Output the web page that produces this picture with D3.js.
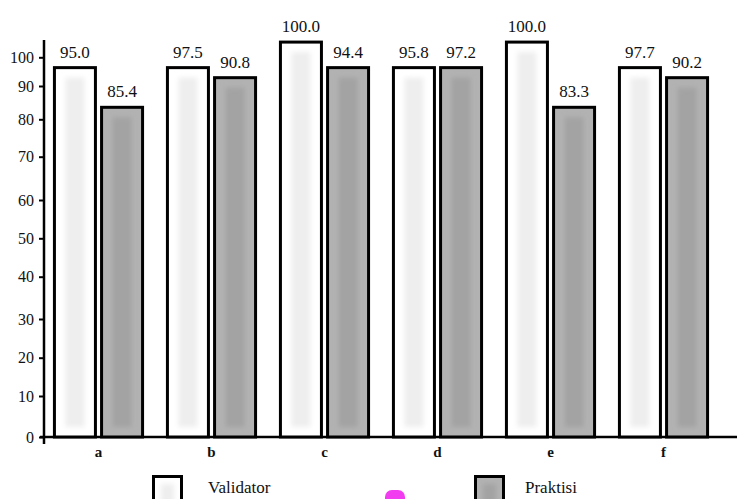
<!DOCTYPE html>
<html>
<head>
<meta charset="utf-8">
<script src="https://cdn.jsdelivr.net/npm/d3@7"></script>
<style>
  html, body { margin: 0; padding: 0; background: #fff; }
  svg { display: block; }
  svg text { font-family: "Liberation Serif", "DejaVu Serif", serif !important; fill: #111; }
</style>
</head>
<body>
<svg id="chart" width="737" height="499"></svg>
<script>
// ---- data ----
const categories = ["a", "b", "c", "d", "e", "f"];
const seriesNames = ["Validator", "Praktisi"];
// printed value labels
const validatorValues = [95.0, 97.5, 100.0, 95.8, 100.0, 97.7];
const praktisiValues  = [85.4, 90.8, 94.4, 97.2, 83.3, 90.2];
// bar heights as drawn against the y axis (the source bars do not match their labels)
const validatorBarHeights = [96.4, 96.4, 105.3, 96.4, 105.3, 96.4];
const praktisiBarHeights  = [83.6, 92.9, 96.4, 96.4, 83.6, 92.9];
const yTickValues = [0, 10, 20, 30, 40, 50, 60, 70, 80, 90, 100];

// ---- chart ----
const svg = d3.select("#chart");
const W = 737, H = 499;
const SERIF = "'Liberation Serif', 'DejaVu Serif', serif";

// y axis of the source is non-uniform at the top: polylinear scale
const y = d3.scaleLinear()
  .domain(yTickValues)
  .range([437, 396, 357.7, 319, 276.7, 238.3, 200, 156.7, 119.3, 86, 57.3]);

const x = d3.scaleBand().domain(categories).range([42, 720])
  .paddingInner(0.22).paddingOuter(0.11);
const xs = d3.scaleBand().domain(seriesNames).range([0, x.bandwidth()])
  .paddingInner(0.13);

const defs = svg.append("defs");
const blur = defs.append("filter").attr("id", "soft")
  .attr("x", "-50%").attr("y", "-50%").attr("width", "200%").attr("height", "200%");
blur.append("feGaussianBlur").attr("stdDeviation", 2.5);

const color = { Validator: "#ffffff", Praktisi: "#b2b2b2" };
const inner = { Validator: "#eeeeee", Praktisi: "#a3a3a3" };

const rows = categories.map((c, i) => ({
  cat: c,
  bars: [
    { s: "Validator", h: validatorBarHeights[i], v: validatorValues[i] },
    { s: "Praktisi",  h: praktisiBarHeights[i],  v: praktisiValues[i] }
  ]
}));

// x axis line
svg.append("line")
  .attr("x1", 40).attr("x2", W)
  .attr("y1", y(0)).attr("y2", y(0))
  .attr("stroke", "#000").attr("stroke-width", 2.5);

const g = svg.selectAll("g.grp").data(rows).join("g")
  .attr("class", "grp")
  .attr("transform", d => `translate(${x(d.cat)},0)`);

const bar = g.selectAll("g.bar").data(d => d.bars).join("g").attr("class", "bar");

bar.append("rect")
  .attr("x", d => xs(d.s))
  .attr("y", d => y(d.h))
  .attr("width", xs.bandwidth())
  .attr("height", d => y(0) - y(d.h))
  .attr("fill", d => color[d.s])
  .attr("stroke", "#000").attr("stroke-width", 3);

bar.append("rect")
  .attr("x", d => xs(d.s) + 11)
  .attr("y", d => y(d.h) + 10)
  .attr("width", xs.bandwidth() - 22)
  .attr("height", d => Math.max(0, y(0) - y(d.h) - 20))
  .attr("fill", d => inner[d.s])
  .attr("filter", "url(#soft)");

bar.append("text")
  .attr("x", d => xs(d.s) + xs.bandwidth() / 2)
  .attr("y", d => y(d.h) - 10)
  .attr("text-anchor", "middle")
  .style("font-family", SERIF)
  .style("font-size", "17px")
  .text(d => d3.format(".1f")(d.v));

// category labels
svg.selectAll("text.cat").data(categories).join("text")
  .attr("class", "cat")
  .attr("x", d => x(d) + x.bandwidth() / 2)
  .attr("y", 457)
  .attr("text-anchor", "middle")
  .style("font-family", SERIF)
  .style("font-size", "15px")
  .style("font-weight", "bold")
  .text(d => d);

// y axis
const yAxis = svg.append("g").attr("transform", "translate(44,0)")
  .call(d3.axisLeft(y).tickValues(yTickValues).tickSize(5).tickPadding(5).tickFormat(d3.format("d")));
yAxis.attr("font-family", null).attr("font-size", null);
yAxis.select(".domain").remove();
yAxis.selectAll(".tick line").attr("stroke", "#000").attr("stroke-width", 2);
yAxis.selectAll(".tick text")
  .style("font-family", SERIF)
  .style("font-size", "16px").attr("fill", "#111");
svg.append("line")
  .attr("x1", 44).attr("x2", 44).attr("y1", 40).attr("y2", 444)
  .attr("stroke", "#000").attr("stroke-width", 2.5);

// legend
const legend = [
  { s: "Validator", bx: 152, tx: 208 },
  { s: "Praktisi", bx: 474, tx: 525 }
];
const lg = svg.selectAll("g.leg").data(legend).join("g").attr("class", "leg");
lg.append("rect")
  .attr("x", d => d.bx + 1.5).attr("y", 476.5)
  .attr("width", 28).attr("height", 30)
  .attr("fill", d => color[d.s])
  .attr("stroke", "#000").attr("stroke-width", 3);
lg.append("rect")
  .attr("x", d => d.bx + 9).attr("y", 484)
  .attr("width", 13).attr("height", 20)
  .attr("fill", d => inner[d.s]).attr("filter", "url(#soft)");
lg.append("text")
  .attr("x", d => d.tx).attr("y", 493)
  .style("font-family", SERIF)
  .style("font-size", "17px")
  .text(d => d.s);

// small magenta mark in the source image
svg.append("rect")
  .attr("x", 385).attr("y", 490).attr("width", 20).attr("height", 16)
  .attr("rx", 7).attr("fill", "#f23cf0");
</script>
</body>
</html>
